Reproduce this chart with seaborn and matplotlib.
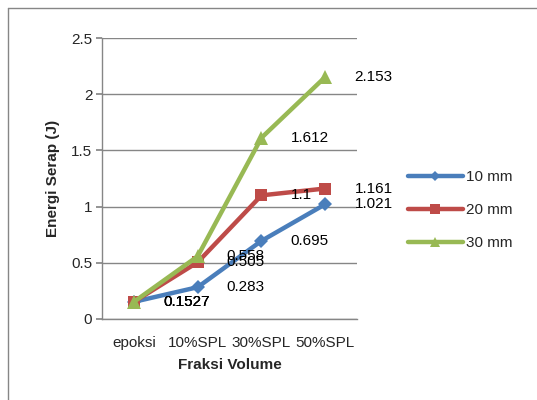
import matplotlib
matplotlib.use("Agg")
import matplotlib.pyplot as plt
import seaborn as sns
import pandas as pd
from matplotlib.lines import Line2D

# Data
categories = ["epoksi", "10%SPL", "30%SPL", "50%SPL"]
series_names = ["10 mm", "20 mm", "30 mm"]
vals_10mm = [0.1527, 0.283, 0.695, 1.021]
vals_20mm = [0.1527, 0.505, 1.1, 1.161]
vals_30mm = [0.1527, 0.558, 1.612, 2.153]
y_ticks = [0, 0.5, 1, 1.5, 2, 2.5]
y_tick_labels = ["0", "0.5", "1", "1.5", "2", "2.5"]

sns.set_theme(style="white")
plt.rcParams["font.family"] = ["Liberation Sans", "DejaVu Sans"]

colors = {"10 mm": "#4A7EBB", "20 mm": "#BE4B48", "30 mm": "#98B954"}
markers = {"10 mm": "D", "20 mm": "s", "30 mm": "^"}
msize = {"10 mm": 7, "20 mm": 9, "30 mm": 10}
FS = 11

frames = []
for name, vals in zip(series_names, [vals_10mm, vals_20mm, vals_30mm]):
    frames.append(pd.DataFrame({"Fraksi": categories, "Energi": vals, "Seri": name}))
df = pd.concat(frames, ignore_index=True)

fig = plt.figure(figsize=(5.37, 4.0), dpi=100)
ax = fig.add_axes([0.190, 0.2025, 0.475, 0.7025])

for name in series_names:
    sub = df[df["Seri"] == name]
    sns.lineplot(data=sub, x="Fraksi", y="Energi", ax=ax, color=colors[name],
                 marker=markers[name], markersize=msize[name], markeredgewidth=0,
                 linewidth=3.2, sort=False, label=name, legend=False, zorder=3)
    for i, (cat, v) in enumerate(zip(sub["Fraksi"], sub["Energi"])):
        ax.annotate(f"{v:g}", xy=(i, v), xytext=(21, 0), textcoords="offset points",
                    ha="left", va="center", fontsize=FS, color="black", zorder=5)

ax.set_xlim(-0.5, 3.5)
ax.set_ylim(0, 2.5)
ax.set_yticks(y_ticks)
ax.set_yticklabels(y_tick_labels)
ax.grid(axis="y", color="#868686", linewidth=1)
ax.set_axisbelow(True)
for s in ["top", "right"]:
    ax.spines[s].set_visible(False)
for s in ["left", "bottom"]:
    ax.spines[s].set_color("#868686")
    ax.spines[s].set_linewidth(1)
ax.tick_params(axis="y", left=True, length=4, color="#868686", labelsize=FS, pad=3)
ax.tick_params(axis="x", bottom=False, labelsize=FS, pad=6)
ax.set_xlabel("Fraksi Volume", fontsize=FS, fontweight="bold", labelpad=6)
ax.set_ylabel("Energi Serap (J)", fontsize=FS, fontweight="bold", labelpad=8)

handles = [Line2D([0], [0], color=colors[n], marker=markers[n], markersize=msize[n] * 0.75,
                  markeredgewidth=0, linewidth=3.2) for n in series_names]
fig.legend(handles, series_names, loc="center left", bbox_to_anchor=(0.734, 0.475),
           frameon=False, fontsize=FS, handlelength=3.6, labelspacing=1.25,
           handletextpad=0.2)

# Outer border of the chart area
fig.add_artist(Line2D([8 / 537, 8 / 537], [0, 1 - 8 / 400], transform=fig.transFigure,
                      color="#868686", linewidth=1))
fig.add_artist(Line2D([8 / 537, 1], [1 - 8 / 400, 1 - 8 / 400], transform=fig.transFigure,
                      color="#868686", linewidth=1))

fig.savefig("out.png", dpi=100)
